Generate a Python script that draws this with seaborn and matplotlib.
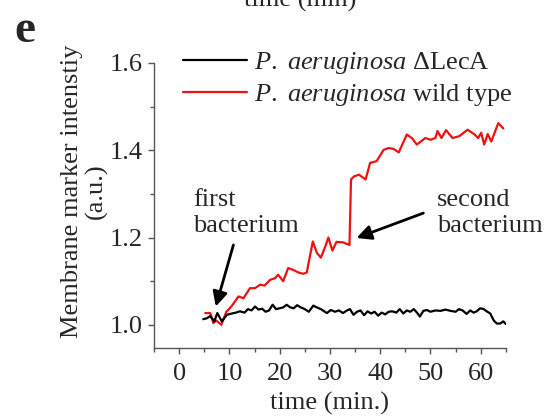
import numpy as np
import pandas as pd
import matplotlib
matplotlib.use("Agg")
import matplotlib.pyplot as plt
import seaborn as sns
from matplotlib.ticker import MultipleLocator

# ---------------------------------------------------------------------------
# data
# ---------------------------------------------------------------------------
t_lecA = [4.8, 5.5, 6.2, 7.0, 7.6, 8.5, 9.5, 10.5, 11.3, 12.1, 13.0, 13.7, 14.4,
          15.1, 15.8, 16.5, 17.2, 17.9, 18.6, 19.3, 20.0, 20.7, 21.4, 22.1, 22.8,
          23.5, 24.2, 25.0, 25.8, 26.7, 27.4, 28.2, 29.4, 30.2, 31.0, 31.8, 32.6,
          33.4, 34.0, 34.7, 35.4, 36.1, 36.8, 37.5, 38.2, 38.9, 39.6, 40.3, 41.0,
          41.7, 42.4, 43.2, 43.9, 44.6, 45.3, 46.0, 46.7, 47.4, 47.9, 48.6, 49.3,
          50.0, 51.0, 52.0, 53.0, 54.0, 55.0, 55.7, 56.4, 57.2, 57.9, 58.6, 59.2,
          59.9, 60.6, 61.2, 61.9, 62.6, 63.2, 63.9, 64.5, 65.0]
v_lecA = [1.013, 1.015, 1.020, 1.008, 1.027, 1.008, 1.023, 1.026, 1.028, 1.031, 1.028,
          1.036, 1.033, 1.042, 1.035, 1.037, 1.030, 1.033, 1.046, 1.036, 1.038, 1.040,
          1.046, 1.040, 1.038, 1.045, 1.040, 1.036, 1.030, 1.044, 1.040, 1.036, 1.027,
          1.034, 1.030, 1.033, 1.027, 1.033, 1.036, 1.023, 1.030, 1.033, 1.022, 1.031,
          1.026, 1.030, 1.021, 1.028, 1.024, 1.030, 1.031, 1.028, 1.036, 1.026, 1.033,
          1.030, 1.036, 1.027, 1.019, 1.032, 1.034, 1.030, 1.033, 1.032, 1.035, 1.032,
          1.030, 1.036, 1.033, 1.025, 1.033, 1.028, 1.031, 1.038, 1.036, 1.031, 1.026,
          1.010, 1.003, 1.003, 1.008, 1.002]

t_wt = [5.2, 6.2, 6.8, 7.4, 8.4, 9.4, 10.4, 11.8, 12.8, 14.1, 15.1, 16.1, 17.0,
        18.1, 19.1, 19.7, 20.7, 21.7, 22.7, 23.7, 24.7, 25.4, 26.6, 27.4, 28.2,
        29.1, 29.7, 30.5, 31.3, 32.6, 33.9, 34.2, 34.8, 35.8, 37.1, 38.0, 39.3,
        40.7, 41.7, 42.7, 43.7, 45.3, 46.3, 47.3, 49.0, 50.0, 51.0, 51.4, 52.2,
        53.1, 54.4, 55.7, 57.4, 58.8, 59.5, 60.1, 60.7, 61.4, 62.1, 63.5, 64.5]
v_wt = [1.027, 1.027, 1.004, 1.010, 1.000, 1.030, 1.042, 1.065, 1.061, 1.084, 1.084,
        1.092, 1.090, 1.103, 1.107, 1.115, 1.100, 1.130, 1.126, 1.120, 1.117, 1.120,
        1.191, 1.165, 1.154, 1.180, 1.200, 1.170, 1.190, 1.189, 1.183, 1.333, 1.340,
        1.344, 1.333, 1.371, 1.375, 1.401, 1.405, 1.403, 1.395, 1.436, 1.428, 1.413,
        1.428, 1.424, 1.428, 1.444, 1.428, 1.446, 1.428, 1.432, 1.447, 1.436, 1.428,
        1.440, 1.413, 1.437, 1.420, 1.462, 1.450]

labels = [r"$\mathit{P.\ aeruginosa}$ ΔLecA", r"$\mathit{P.\ aeruginosa}$ wild type"]

df = pd.concat([
    pd.DataFrame({"time": t_lecA, "intensity": v_lecA, "strain": labels[0]}),
    pd.DataFrame({"time": t_wt, "intensity": v_wt, "strain": labels[1]}),
])

# ---------------------------------------------------------------------------
# plot
# ---------------------------------------------------------------------------
sns.set_style("ticks")
plt.rcParams["font.family"] = ["Liberation Serif", "DejaVu Serif"]
plt.rcParams["mathtext.fontset"] = "custom"
plt.rcParams["mathtext.it"] = "Liberation Serif:italic"
plt.rcParams["mathtext.rm"] = "Liberation Serif"
fs = 19

fig = plt.figure(figsize=(5.48, 4.18), dpi=100)
ax = fig.add_axes([0.281, 0.1675, 0.642, 0.682])

sns.lineplot(data=df, x="time", y="intensity", hue="strain", hue_order=labels,
             palette=["black", "#f01010"], linewidth=1.6, ax=ax, sort=False,
             estimator=None)
ax.lines[0].set_zorder(3)

ax.set_xlim(-5, 65)
ax.set_ylim(0.947, 1.6)
ax.xaxis.set_major_locator(MultipleLocator(10))
ax.xaxis.set_minor_locator(MultipleLocator(5))
ax.yaxis.set_major_locator(MultipleLocator(0.2))
ax.yaxis.set_minor_locator(MultipleLocator(0.1))
ax.yaxis.set_major_formatter(matplotlib.ticker.FormatStrFormatter("%.1f"))
ax.tick_params(which="major", length=4, width=1, color="#555555", labelsize=fs, pad=4)
ax.tick_params(axis="x", which="major", pad=7)
ax.tick_params(which="minor", length=3, width=1, color="#555555")
for s in ["left", "bottom"]:
    ax.spines[s].set_color("#555555")
    ax.spines[s].set_linewidth(1)
sns.despine(ax=ax)

ax.set_xlabel("time (min.)", fontsize=fs, labelpad=5)
ax.set_ylabel("Membrane marker intenstiy\n(a.u.)", fontsize=fs, linespacing=1.1)
ax.yaxis.set_label_coords(-0.13, 0.55)

leg = ax.legend(loc="upper left", bbox_to_anchor=(0.083, 1.046), frameon=False,
                fontsize=fs, handlelength=2.4, handletextpad=0.3,
                labelspacing=0.25, borderpad=0, borderaxespad=0)

arrow = dict(arrowstyle="-|>", color="black", lw=2, mutation_scale=22,
             shrinkA=0, shrinkB=0)
ax.annotate("", xy=(7.3, 1.042), xytext=(10.8, 1.183), arrowprops=arrow)
ax.annotate("", xy=(35.3, 1.199), xytext=(48.6, 1.256), arrowprops=arrow)
ax.text(2.8, 1.312, "first\nbacterium", fontsize=fs, ha="left", va="top",
        linespacing=1.25)
ax.text(51.3, 1.312, "second\nbacterium", fontsize=fs, ha="left", va="top",
        linespacing=1.25)

fig.text(0.027, 0.975, "e", fontsize=34, fontweight="bold", va="top")
fig.text(0.547, 1.0, "time (min)", fontsize=fs, ha="center", va="center")

fig.savefig("out.png", dpi=100)
